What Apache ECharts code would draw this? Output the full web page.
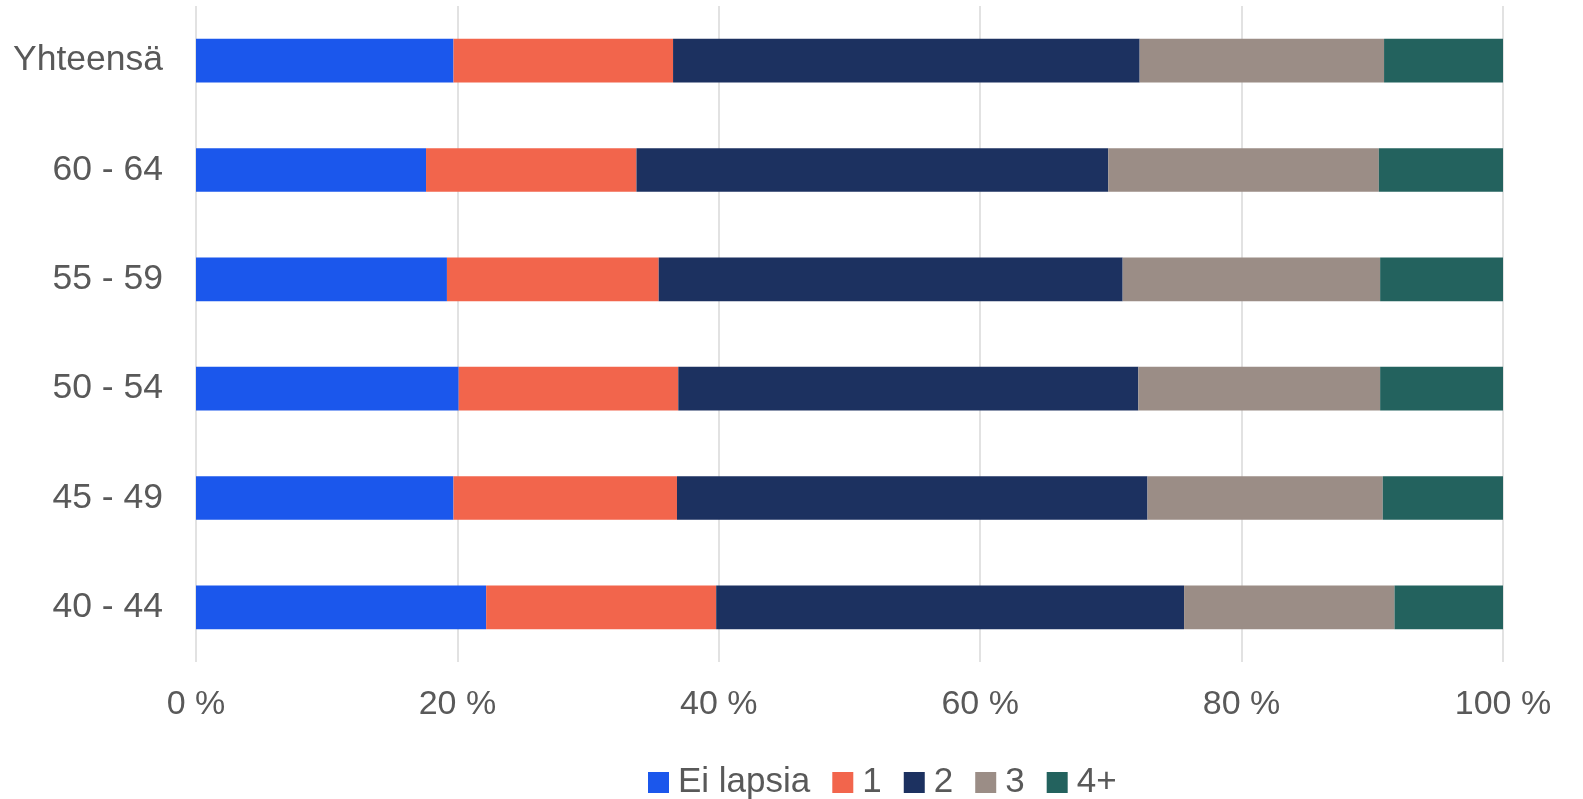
<!DOCTYPE html>
<html><head><meta charset="utf-8">
<script src="https://cdn.jsdelivr.net/npm/echarts@6/dist/echarts.min.js"></script>
<style>html,body{margin:0;padding:0;background:#fff}#c{width:1583px;height:799px}</style>
</head><body><div id="c"></div>
<script>
const categories = ['40 - 44', '45 - 49', '50 - 54', '55 - 59', '60 - 64', 'Yhteensä'];
const seriesNames = ['Ei lapsia', '1', '2', '3', '4+'];
const eiLapsia = [22.2, 19.7, 20.1, 19.2, 17.6, 19.7];
const yksi     = [17.6, 17.1, 16.8, 16.2, 16.1, 16.8];
const kaksi    = [35.8, 36.0, 35.2, 35.5, 36.1, 35.7];
const kolme    = [16.1, 18.0, 18.5, 19.7, 20.7, 18.7];
const neljaPlus= [8.3, 9.2, 9.4, 9.4, 9.5, 9.1];
const xTicks = [0, 20, 40, 60, 80, 100];

const colors = ['#1B57EC', '#F2654C', '#1C3160', '#9B8D86', '#23625E'];
const values = [eiLapsia, yksi, kaksi, kolme, neljaPlus];
const font = 'Liberation Sans';

const chart = echarts.init(document.getElementById('c'), null, {renderer: 'canvas'});
chart.setOption({
  animation: false,
  color: colors,
  grid: {left: 196, right: 80, top: 6, bottom: 137, containLabel: false},
  legend: {
    left: 643, top: 760,
    itemWidth: 21, itemHeight: 21, itemGap: 22,
    icon: 'rect',
    textStyle: {fontFamily: font, fontSize: 35, color: '#595959', padding: [0,0,0,4]},
    data: seriesNames
  },
  xAxis: {
    type: 'value', min: xTicks[0], max: xTicks[xTicks.length-1], interval: 20,
    axisLine: {show: false}, axisTick: {show: false},
    splitLine: {lineStyle: {color: '#D9D9D9', width: 1.5}},
    axisLabel: {formatter: '{value} %', fontFamily: font, fontSize: 34, color: '#595959', margin: 26}
  },
  yAxis: {
    type: 'category', data: categories,
    axisLine: {show: false}, axisTick: {show: false},
    axisLabel: {fontFamily: font, fontSize: 35.5, color: '#595959', margin: 33, padding: [4,0,0,0]}
  },
  series: seriesNames.map((n, i) => ({
    name: n, type: 'bar', stack: 'total', data: values[i],
    barCategoryGap: '60%',
    itemStyle: {color: colors[i]}
  }))
});
</script></body></html>
